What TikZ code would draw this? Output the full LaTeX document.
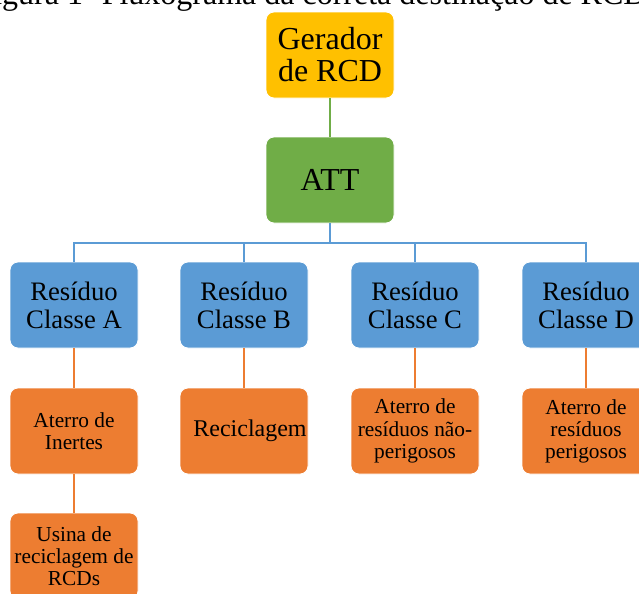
\documentclass[tikz,border=0pt]{standalone}
\usepackage{fontspec}
\setmainfont{Liberation Serif}
\definecolor{geradorfill}{HTML}{FFC000}
\definecolor{attfill}{HTML}{70AD47}
\definecolor{classefill}{HTML}{5B9BD5}
\definecolor{destinofill}{HTML}{ED7D31}

\begin{document}
\begin{tikzpicture}[x=0.75pt,y=-0.75pt,
	box/.style={rounded corners=6pt, draw=white, line width=0.6pt, minimum width=96pt, minimum height=64.5pt, align=center, inner sep=1pt, text=black},
	classebox/.style={box, fill=classefill, font=\fontsize{20}{21}\selectfont},
	destinobox/.style={box, fill=destinofill, font=\fontsize{16}{16.5}\selectfont},
	greenline/.style={draw=attfill, line width=1.5pt},
	blueline/.style={draw=classefill, line width=1.5pt},
	orangeline/.style={draw=destinofill, line width=1.5pt}]
	\useasboundingbox (0,0) rectangle (639,593);
	\clip (0,0) rectangle (639,593);
	% caption, cut at the top
	\node[anchor=base, font=\fontsize{24}{24}\selectfont, inner sep=0pt] (legenda) at (311,4) {Figura 1- Fluxograma da correta destinação de RCD};
	% top of the chart
	\node[box, fill=geradorfill, font=\fontsize{24}{24}\selectfont] (gerador) at (330,55) {Gerador\\de RCD};
	\node[box, fill=attfill, font=\fontsize{24}{24}\selectfont] (att) at (330,180) {ATT};
	% classes
	\node[classebox] (resA) at (74,305) {Resíduo\\Classe A};
	\node[classebox] (resB) at (244,305) {Resíduo\\Classe B};
	\node[classebox] (resC) at (415,305) {Resíduo\\Classe C};
	\node[classebox] (resD) at (586,305) {Resíduo\\Classe D};
	% destinations
	\node[destinobox] (aterroA) at (74,431) {Aterro de\\Inertes};
	\node[destinobox, font=\fontsize{18}{18}\selectfont] (recicla) at (244,431) {\hspace*{9pt}Reciclagem};
	\node[destinobox, font=\fontsize{16}{17}\selectfont] (aterroC) at (415,431) {Aterro de\\resíduos não-\\perigosos};
	\node[destinobox] (aterroD) at (586,431) {Aterro de\\resíduos\\perigosos};
	\node[destinobox] (usina) at (74,556) {Usina de\\reciclagem de\\RCDs};
	% connectors
	\draw[greenline] (gerador) -- (att);
	\coordinate (barra) at (330,243);
	\draw[blueline] (att.south) -- (barra);
	\foreach \c in {resA,resB,resC,resD}
		\draw[blueline] (barra) -| (\c.north);
	\draw[orangeline] (resA) -- (aterroA);
	\draw[orangeline] (resB) -- (recicla);
	\draw[orangeline] (resC) -- (aterroC);
	\draw[orangeline] (resD) -- (aterroD);
	\draw[orangeline] (aterroA) -- (usina);
\end{tikzpicture}
\end{document}
